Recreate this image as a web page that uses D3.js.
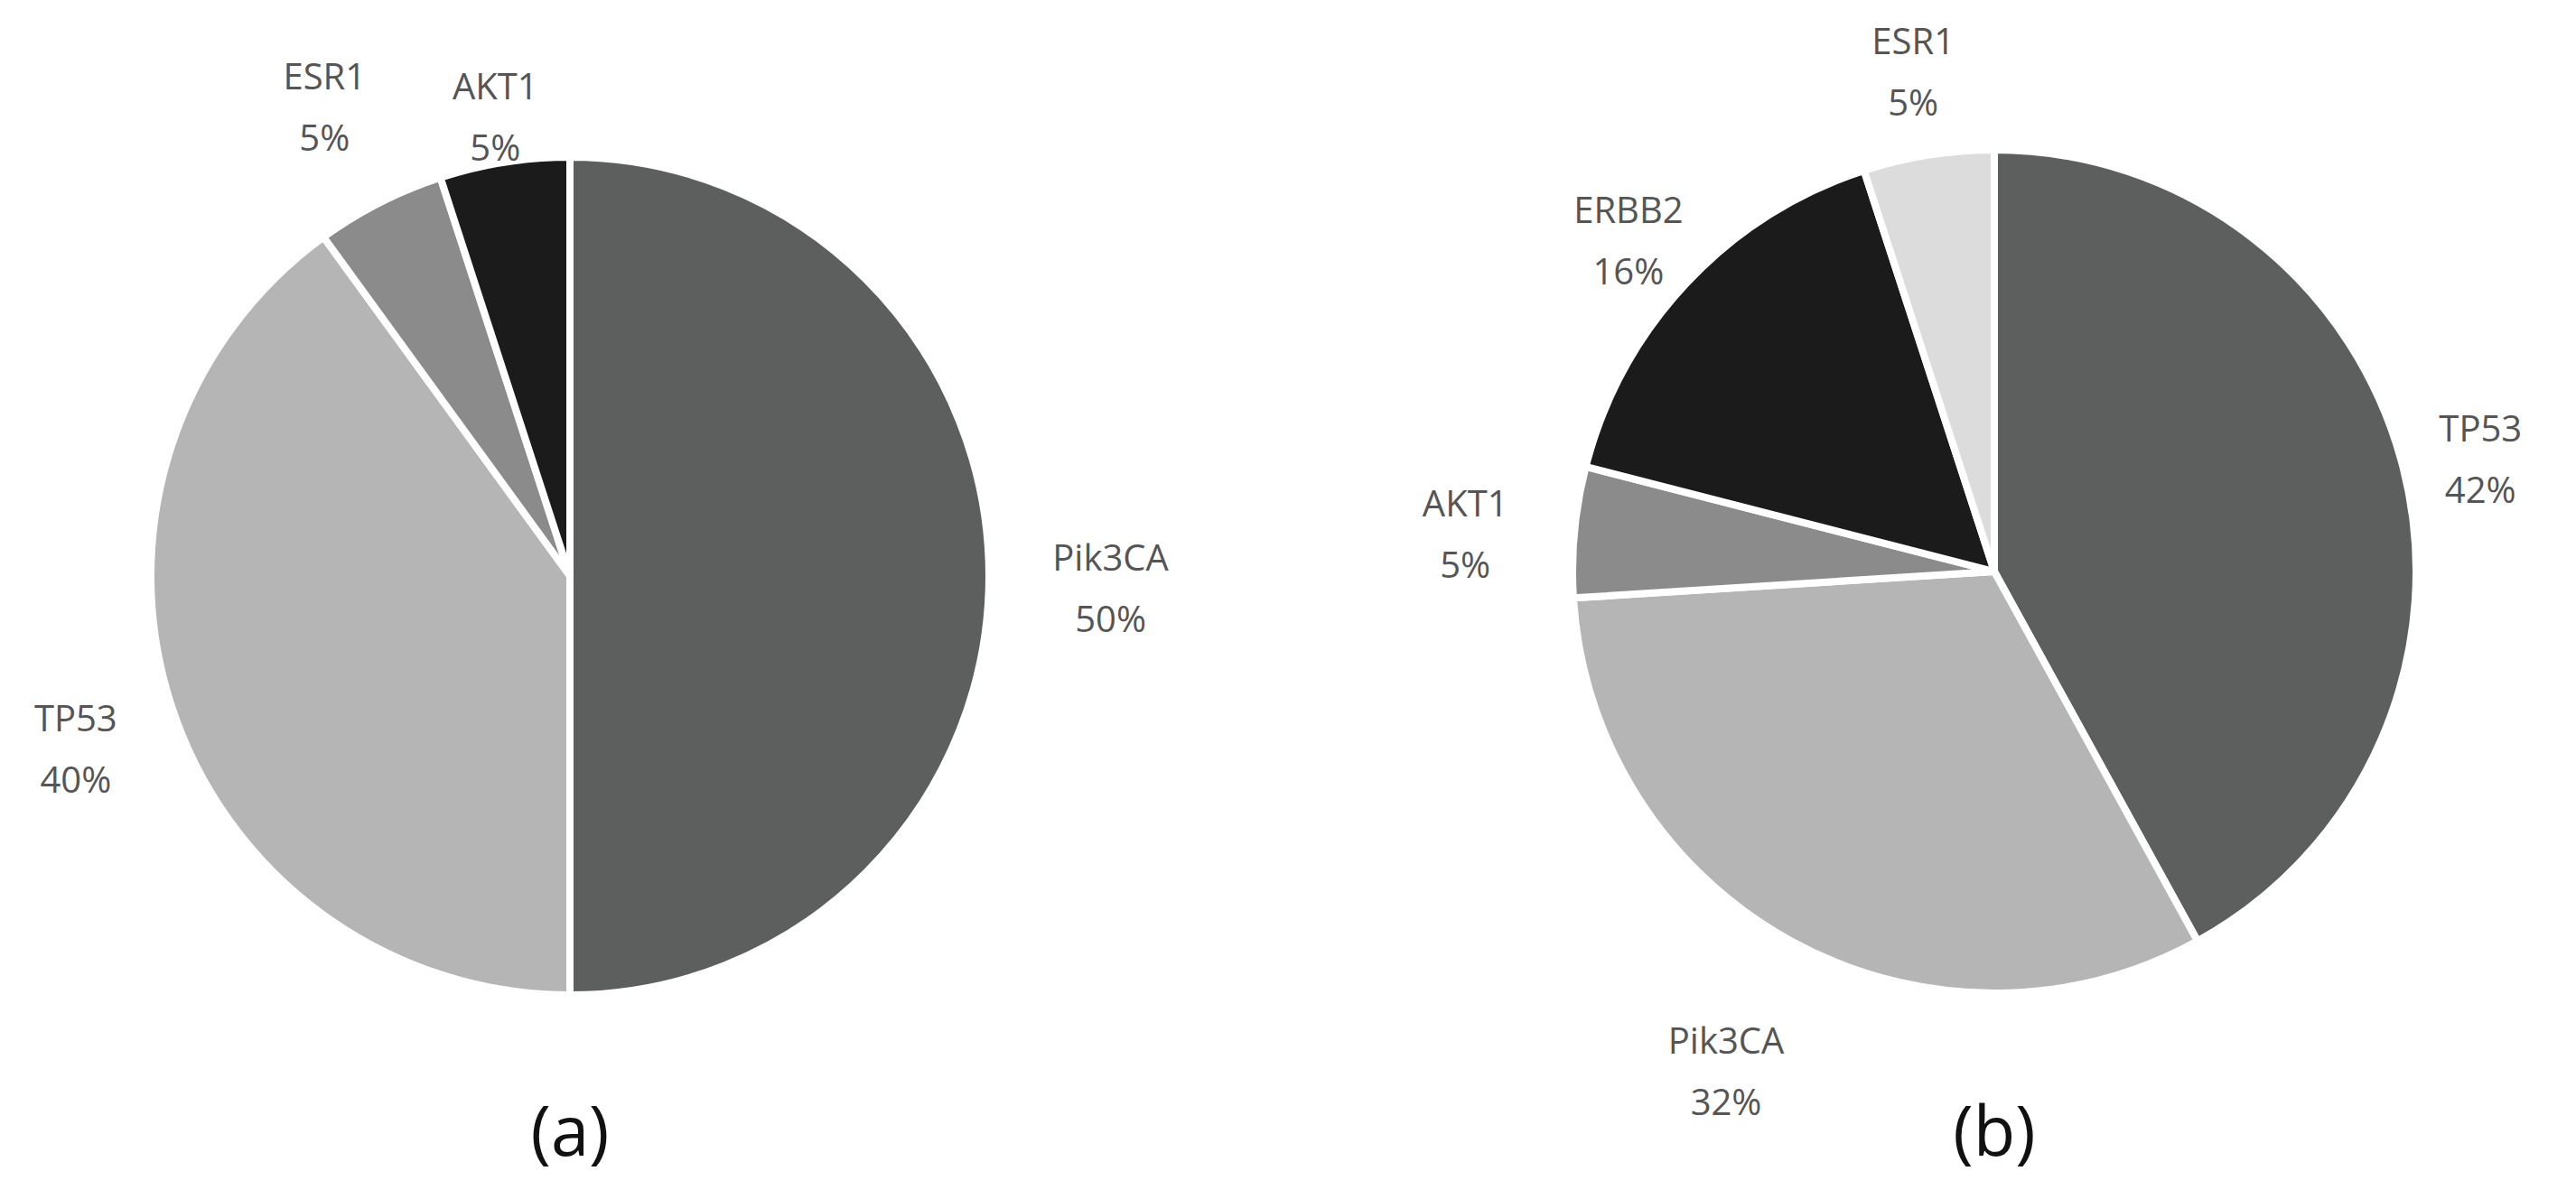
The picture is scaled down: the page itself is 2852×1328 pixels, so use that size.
<!DOCTYPE html>
<html><head><meta charset="utf-8">
<script src="https://cdn.jsdelivr.net/npm/d3@7"></script>
<style>body{margin:0;background:#fff}</style></head>
<body><svg id="c" width="2852" height="1328"></svg>
<script>
const labelsA = ["Pik3CA","TP53","ESR1","AKT1"];
const valuesA = [50,40,5,5];
const colorsA = ["#5d5f5e","#b4b5b4","#8b8b8b","#1b1b1b"];
const labelsB = ["TP53","Pik3CA","AKT1","ERBB2","ESR1"];
const valuesB = [42,32,5,16,5];
const colorsB = ["#5d5f5e","#b4b5b4","#8b8b8b","#1b1b1b","#dcdcdc"];
const labelRA = [1.29,1.24,1.29,1.14];
const labelRB = [1.19,1.32,1.26,1.19,1.23];

const svg = d3.select("#c");
function drawPie(cx, cy, r, labels, values, colors, lr, caption){
  const g = svg.append("g").attr("transform",`translate(${cx},${cy})`);
  const pie = d3.pie().sort(null).value(d=>d)(values);
  const arc = d3.arc().innerRadius(0).outerRadius(r);
  g.selectAll("path").data(pie).join("path")
    .attr("d",arc).attr("fill",(d,i)=>colors[i])
    .attr("stroke","#fff").attr("stroke-width",8).attr("stroke-linejoin","round");
  pie.forEach((d,i)=>{
    const a=(d.startAngle+d.endAngle)/2, rr=r*lr[i];
    const x=Math.sin(a)*rr, y=-Math.cos(a)*rr;
    const t=g.append("text").attr("x",x).attr("y",y).attr("text-anchor","middle")
      .attr("font-family","Open Sans, sans-serif").attr("font-size",40).attr("fill","#555");
    t.append("tspan").attr("x",x).attr("dy","-0.15em").text(labels[i]);
    t.append("tspan").attr("x",x).attr("dy","1.7em").text(values[i]+"%");
  });
  svg.append("text").attr("x",cx).attr("y",1280).attr("text-anchor","middle")
    .attr("font-family","Open Sans, sans-serif").attr("font-size",76).attr("fill","#111").text(caption);
}
drawPie(631,638,464,labelsA,valuesA,colorsA,labelRA,"(a)");
drawPie(2208,633,467,labelsB,valuesB,colorsB,labelRB,"(b)");
</script></body></html>
